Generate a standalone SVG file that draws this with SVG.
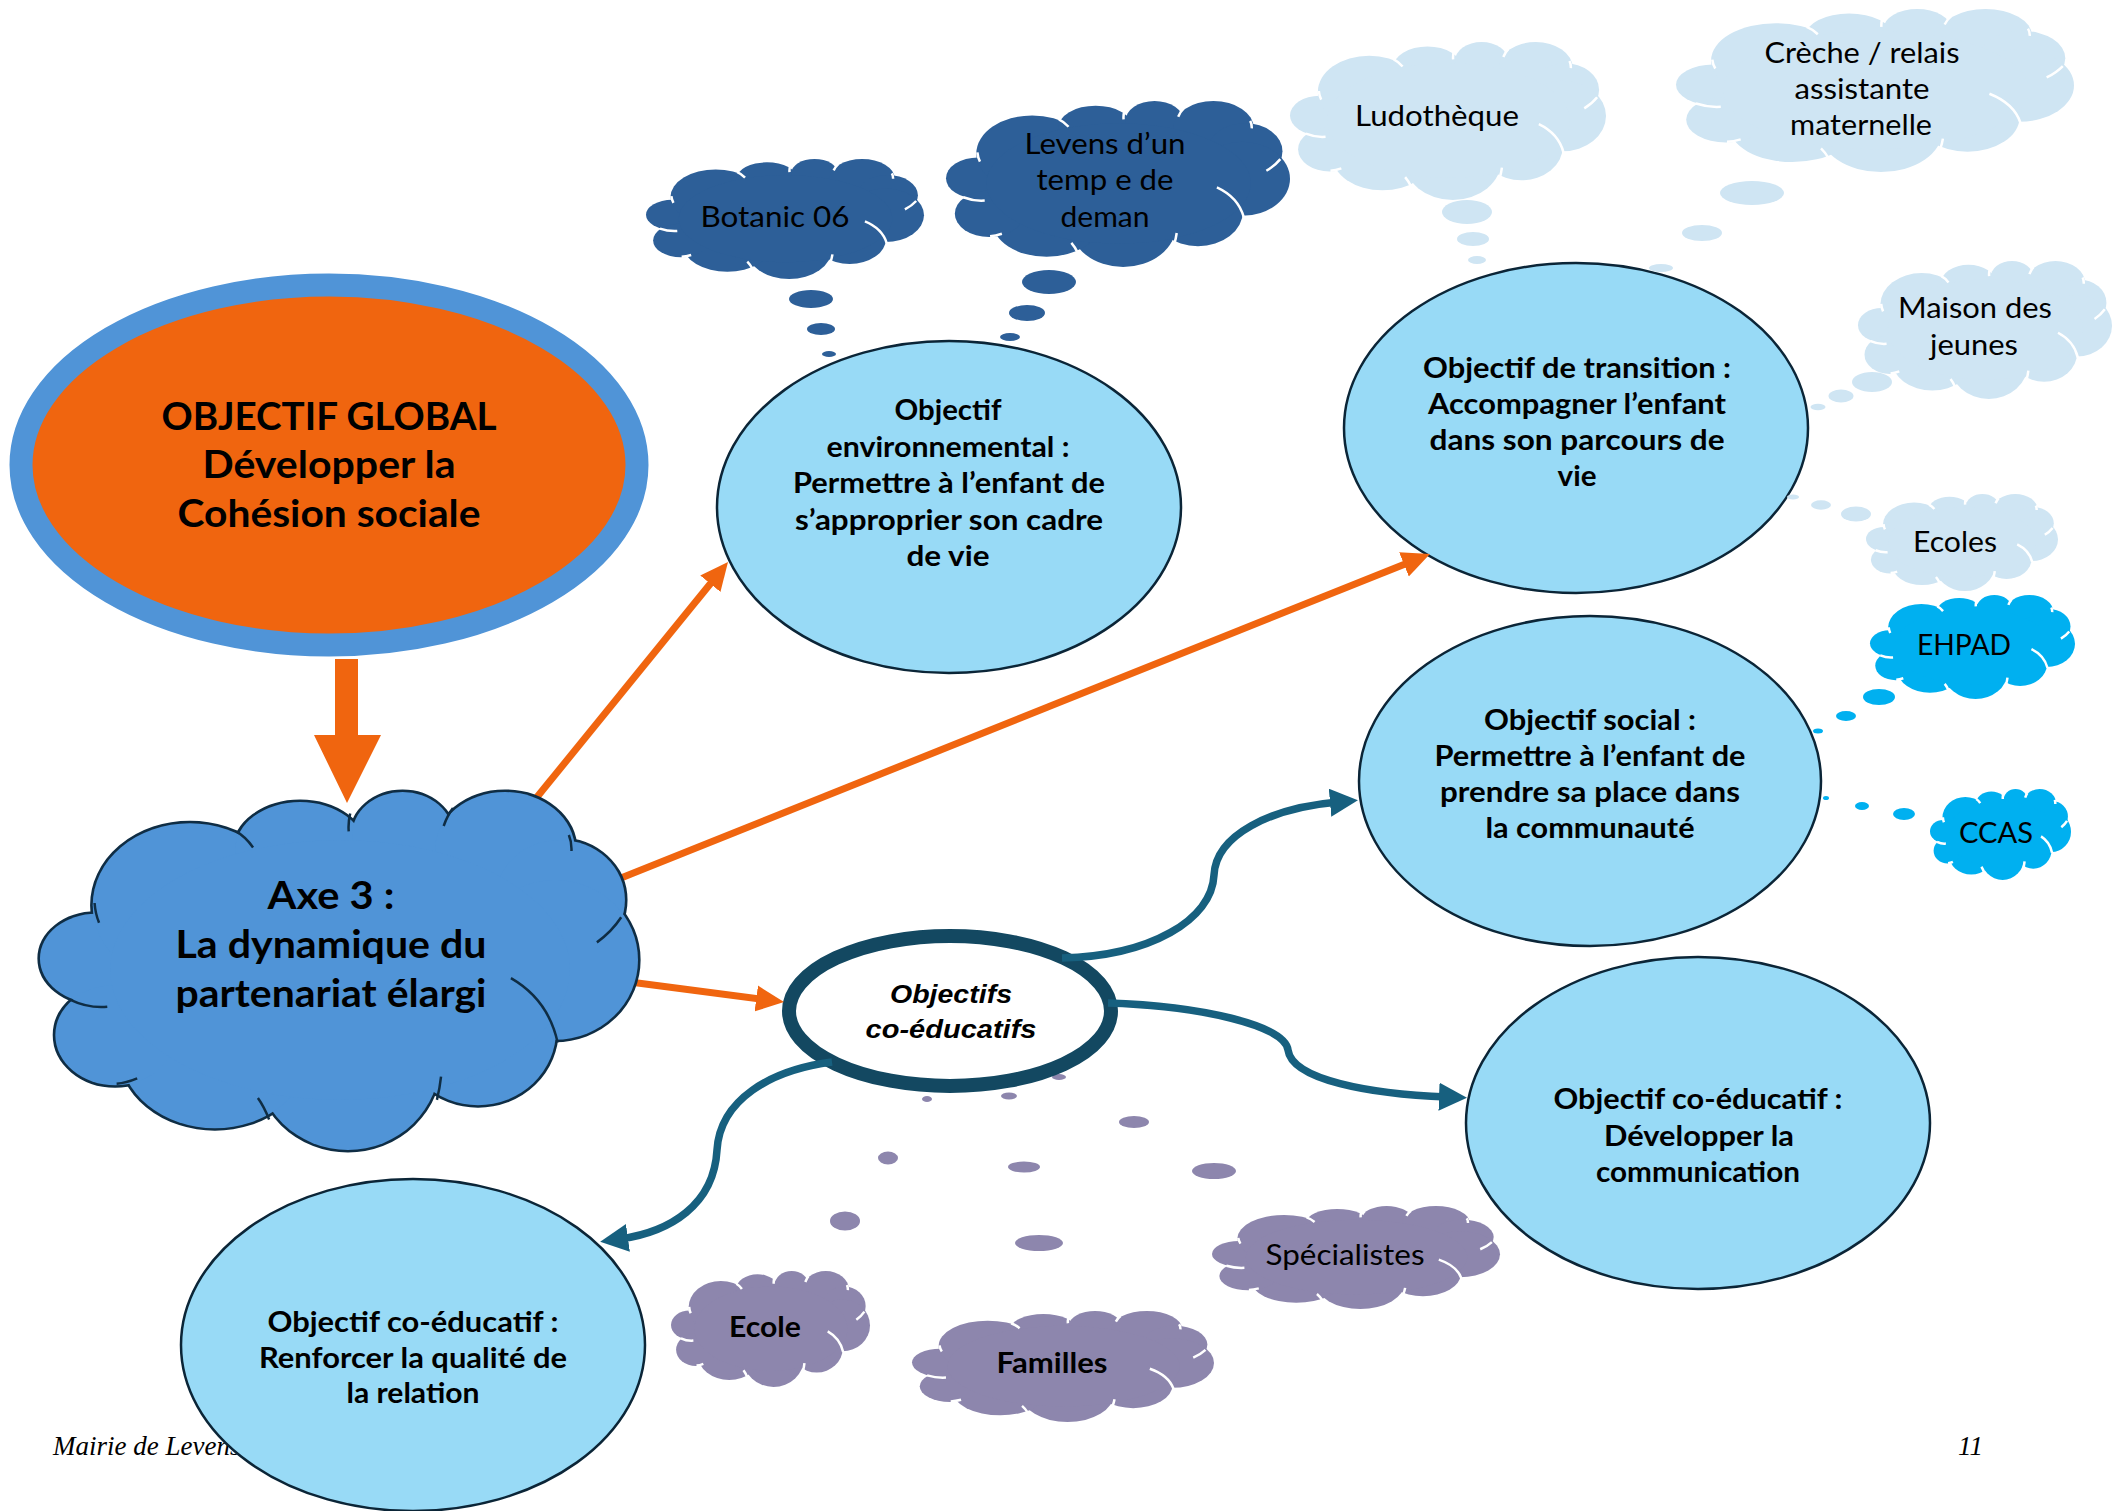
<svg xmlns="http://www.w3.org/2000/svg" width="2112" height="1511" viewBox="0 0 2112 1511">
<style>
.t{font-family:Lato,"Open Sans","Liberation Sans",sans-serif;fill:#000;text-anchor:middle}
.b{font-weight:700}
.r{font-weight:400}
.ell{fill:#98DAF6;stroke:#0B2537;stroke-width:2.5}
.dk{fill:#2D5F98}
.lt{fill:#CFE5F3}
.cy{fill:#00B0F0}
.pu{fill:#8D86AD}
.cr{fill:none;stroke:#fff;stroke-width:2.5}
.oc{fill:none;stroke:#F0650F;stroke-width:7}
.tc{fill:none;stroke:#17607F;stroke-width:7.5;stroke-linecap:butt}
.ft{font-family:"Liberation Serif","Times New Roman",serif;font-style:italic;font-size:27px;fill:#000}
.ce{font-family:"Liberation Sans",Arial,sans-serif;font-weight:700;font-style:italic;font-size:26px;text-anchor:middle;fill:#000}
</style>
<defs>
<symbol id="cloud" viewBox="0 0 160 100" preserveAspectRatio="none" style="overflow:visible">
<ellipse cx="15" cy="46.5" rx="15" ry="12.5"/>
<ellipse cx="40.1" cy="31.6" rx="26" ry="22.9"/>
<ellipse cx="69.6" cy="16.2" rx="17.4" ry="13.4"/>
<ellipse cx="97" cy="12" rx="13.5" ry="12"/>
<ellipse cx="124.4" cy="16.2" rx="18.7" ry="16.2"/>
<ellipse cx="139.1" cy="30.2" rx="17.4" ry="16.8"/>
<ellipse cx="137.8" cy="46.9" rx="22.2" ry="22.3"/>
<ellipse cx="117.2" cy="66.5" rx="20.9" ry="21"/>
<ellipse cx="82.4" cy="74.9" rx="24.6" ry="25.1"/>
<ellipse cx="46.8" cy="72.1" rx="25.4" ry="21.8"/>
<ellipse cx="20.1" cy="67.9" rx="16" ry="14"/>
<ellipse cx="80.3" cy="49.7" rx="61.5" ry="36.3"/>
</symbol>
<symbol id="creases" viewBox="0 0 160 100" preserveAspectRatio="none" style="overflow:visible">
<path vector-effect="non-scaling-stroke" d="M14.6,31 Q14.8,34 15.8,36.5 M52.5,11 Q55,12.5 57,15.5 M83,6 Q82.4,8.5 82.6,11 M110.5,4.5 Q109,6.5 108,9.5 M141.5,12 Q142.3,14 142.2,16.5 M155.5,35 Q153,39 149,42 M126,52 Q136,58 138.5,70 M107.3,79.5 Q107,82.5 106.2,86 M58.3,85.5 Q60,88 61.3,91.5 M20.5,81.5 Q23,81.3 26,80 M8,58 Q13,60.5 18,60"/>
</symbol>
<marker id="ao" viewBox="0 0 28 28" refX="8" refY="14" markerWidth="28" markerHeight="28" markerUnits="userSpaceOnUse" orient="auto"><path d="M0,1 L28,14 L0,27 z" fill="#F0650F"/></marker>
<marker id="at" viewBox="0 0 28 28" refX="8" refY="14" markerWidth="28" markerHeight="28" markerUnits="userSpaceOnUse" orient="auto"><path d="M0,0 L28,14 L0,28 z" fill="#17607F"/></marker>
</defs>

<g id="footer">
<text class="ft" x="53" y="1455">Mairie de Levens</text>
<text class="ft" x="1958" y="1455">11</text>
</g>

<g id="purple-dots" class="pu">
<ellipse cx="927" cy="1099" rx="5" ry="3"/>
<ellipse cx="1009" cy="1096" rx="8" ry="3.5"/>
<ellipse cx="1059" cy="1077" rx="7" ry="3"/>
<ellipse cx="1134" cy="1122" rx="15" ry="6"/>
<ellipse cx="888" cy="1158" rx="10" ry="6.5"/>
<ellipse cx="1024" cy="1167" rx="16" ry="5.5"/>
<ellipse cx="1214" cy="1171" rx="22" ry="8"/>
<ellipse cx="845" cy="1221" rx="15" ry="9.5"/>
<ellipse cx="1039" cy="1243" rx="24" ry="8"/>
</g>

<g id="objectif-global">
<ellipse cx="329" cy="465" rx="308" ry="180" fill="#F0650F" stroke="#5094D7" stroke-width="23"/>
<text class="t b" font-size="38" x="329" y="430" textLength="335" lengthAdjust="spacingAndGlyphs">OBJECTIF GLOBAL</text>
<text class="t b" font-size="38" x="329" y="478" textLength="253" lengthAdjust="spacingAndGlyphs">Développer la</text>
<text class="t b" font-size="38" x="329" y="527" textLength="303" lengthAdjust="spacingAndGlyphs">Cohésion sociale</text>
</g>

<g id="objectif-environnemental">
<ellipse class="ell" cx="949" cy="507" rx="232" ry="166"/>
<text class="t b" font-size="28" x="948" y="420" textLength="107" lengthAdjust="spacingAndGlyphs">Objectif</text>
<text class="t b" font-size="28" x="948" y="457" textLength="243" lengthAdjust="spacingAndGlyphs">environnemental :</text>
<text class="t b" font-size="28" x="949" y="493" textLength="312" lengthAdjust="spacingAndGlyphs">Permettre à l’enfant de</text>
<text class="t b" font-size="28" x="949" y="530" textLength="308" lengthAdjust="spacingAndGlyphs">s’approprier son cadre</text>
<text class="t b" font-size="28" x="948" y="566" textLength="83" lengthAdjust="spacingAndGlyphs">de vie</text>
</g>

<g id="objectif-transition">
<ellipse class="ell" cx="1576" cy="428" rx="232" ry="165"/>
<text class="t b" font-size="28" x="1577" y="378" textLength="308" lengthAdjust="spacingAndGlyphs">Objectif de transition :</text>
<text class="t b" font-size="28" x="1577" y="414" textLength="298" lengthAdjust="spacingAndGlyphs">Accompagner l’enfant</text>
<text class="t b" font-size="28" x="1577" y="450" textLength="295" lengthAdjust="spacingAndGlyphs">dans son parcours de</text>
<text class="t b" font-size="28" x="1577" y="486" textLength="39" lengthAdjust="spacingAndGlyphs">vie</text>
</g>

<g id="objectif-social">
<ellipse class="ell" cx="1590" cy="781" rx="231" ry="165"/>
<text class="t b" font-size="28" x="1590" y="730" textLength="212" lengthAdjust="spacingAndGlyphs">Objectif social :</text>
<text class="t b" font-size="28" x="1590" y="766" textLength="311" lengthAdjust="spacingAndGlyphs">Permettre à l’enfant de</text>
<text class="t b" font-size="28" x="1590" y="802" textLength="300" lengthAdjust="spacingAndGlyphs">prendre sa place dans</text>
<text class="t b" font-size="28" x="1590" y="838" textLength="209" lengthAdjust="spacingAndGlyphs">la communauté</text>
</g>

<g id="objectif-communication">
<ellipse class="ell" cx="1698" cy="1123" rx="232" ry="166"/>
<text class="t b" font-size="28" x="1698" y="1109" textLength="289" lengthAdjust="spacingAndGlyphs">Objectif co-éducatif :</text>
<text class="t b" font-size="28" x="1699" y="1146" textLength="190" lengthAdjust="spacingAndGlyphs">Développer la</text>
<text class="t b" font-size="28" x="1698" y="1182" textLength="204" lengthAdjust="spacingAndGlyphs">communication</text>
</g>

<g id="objectif-relation">
<ellipse class="ell" cx="413" cy="1345" rx="232" ry="166"/>
<text class="t b" font-size="28" x="413" y="1332" textLength="291" lengthAdjust="spacingAndGlyphs">Objectif co-éducatif :</text>
<text class="t b" font-size="28" x="413" y="1368" textLength="308" lengthAdjust="spacingAndGlyphs">Renforcer la qualité de</text>
<text class="t b" font-size="28" x="413" y="1403" textLength="133" lengthAdjust="spacingAndGlyphs">la relation</text>
</g>

<g id="botanic">
<use href="#cloud" x="646" y="159" width="278" height="120" class="dk"/>
<use href="#creases" x="646" y="159" width="278" height="120" class="cr"/>
<g class="dk"><ellipse cx="811" cy="299" rx="22" ry="9"/><ellipse cx="821" cy="329" rx="14" ry="6"/><ellipse cx="829" cy="354" rx="7" ry="3"/></g>
<text class="t r" font-size="28" x="775" y="227" textLength="149" lengthAdjust="spacingAndGlyphs">Botanic 06</text>
</g>

<g id="levens">
<use href="#cloud" x="946" y="101" width="344" height="166" class="dk"/>
<use href="#creases" x="946" y="101" width="344" height="166" class="cr"/>
<g class="dk"><ellipse cx="1049" cy="282" rx="27" ry="12"/><ellipse cx="1027" cy="313" rx="18" ry="8"/><ellipse cx="1010" cy="337" rx="10" ry="4"/></g>
<text class="t r" font-size="28" x="1105" y="154" textLength="161" lengthAdjust="spacingAndGlyphs">Levens d’un</text>
<text class="t r" font-size="28" x="1105" y="190" textLength="137" lengthAdjust="spacingAndGlyphs">temp e de</text>
<text class="t r" font-size="28" x="1105" y="227" textLength="89" lengthAdjust="spacingAndGlyphs">deman</text>
</g>

<g id="ludotheque">
<use href="#cloud" x="1290" y="42" width="316" height="158" class="lt"/>
<use href="#creases" x="1290" y="42" width="316" height="158" class="cr"/>
<g class="lt"><ellipse cx="1467" cy="212" rx="25" ry="12"/><ellipse cx="1473" cy="239" rx="16" ry="7"/><ellipse cx="1477" cy="260" rx="9" ry="4"/></g>
<text class="t r" font-size="28" x="1437" y="126" textLength="164" lengthAdjust="spacingAndGlyphs">Ludothèque</text>
</g>

<g id="creche">
<use href="#cloud" x="1676" y="9" width="398" height="163" class="lt"/>
<use href="#creases" x="1676" y="9" width="398" height="163" class="cr"/>
<g class="lt"><ellipse cx="1752" cy="193" rx="32" ry="12"/><ellipse cx="1702" cy="233" rx="20" ry="8"/><ellipse cx="1661" cy="268" rx="12" ry="4"/></g>
<text class="t r" font-size="28" x="1862" y="63" textLength="195" lengthAdjust="spacingAndGlyphs">Crèche / relais</text>
<text class="t r" font-size="28" x="1862" y="99" textLength="135" lengthAdjust="spacingAndGlyphs">assistante</text>
<text class="t r" font-size="28" x="1861" y="135" textLength="142" lengthAdjust="spacingAndGlyphs">maternelle</text>
</g>

<g id="maison-jeunes">
<use href="#cloud" x="1858" y="261" width="254" height="138" class="lt"/>
<use href="#creases" x="1858" y="261" width="254" height="138" class="cr"/>
<g class="lt"><ellipse cx="1872" cy="382" rx="20" ry="10"/><ellipse cx="1841" cy="396" rx="12.5" ry="6.5"/><ellipse cx="1818" cy="407" rx="7.5" ry="3.3"/></g>
<text class="t r" font-size="28" x="1975" y="318" textLength="154" lengthAdjust="spacingAndGlyphs">Maison des</text>
<text class="t r" font-size="28" x="1974" y="355" textLength="88" lengthAdjust="spacingAndGlyphs">jeunes</text>
</g>

<g id="ecoles">
<use href="#cloud" x="1866" y="494" width="192" height="97" class="lt"/>
<use href="#creases" x="1866" y="494" width="192" height="97" class="cr"/>
<g class="lt"><ellipse cx="1856" cy="514" rx="15" ry="7.5"/><ellipse cx="1821" cy="505" rx="10" ry="4.7"/><ellipse cx="1793" cy="497" rx="6" ry="2.5"/></g>
<text class="t r" font-size="28" x="1955" y="552" textLength="84" lengthAdjust="spacingAndGlyphs">Ecoles</text>
</g>

<g id="ehpad">
<use href="#cloud" x="1870" y="595" width="205" height="104" class="cy"/>
<use href="#creases" x="1870" y="595" width="205" height="104" class="cr"/>
<g class="cy"><ellipse cx="1879" cy="697" rx="16" ry="8"/><ellipse cx="1846" cy="716" rx="10" ry="5"/><ellipse cx="1818" cy="731" rx="5" ry="2.5"/></g>
<text class="t r" font-size="29" x="1964" y="655" textLength="94" lengthAdjust="spacingAndGlyphs">EHPAD</text>
</g>

<g id="ccas">
<use href="#cloud" x="1930" y="789" width="141" height="91" class="cy"/>
<use href="#creases" x="1930" y="789" width="141" height="91" class="cr"/>
<g class="cy"><ellipse cx="1904" cy="814" rx="11" ry="6"/><ellipse cx="1862" cy="806" rx="7" ry="4"/><ellipse cx="1826" cy="798" rx="3" ry="2"/></g>
<text class="t r" font-size="29" x="1996" y="843" textLength="74" lengthAdjust="spacingAndGlyphs">CCAS</text>
</g>

<g id="specialistes">
<use href="#cloud" x="1212" y="1206" width="288" height="103" class="pu"/>
<use href="#creases" x="1212" y="1206" width="288" height="103" class="cr"/>
<text class="t r" font-size="28" x="1345" y="1265" textLength="159" lengthAdjust="spacingAndGlyphs">Spécialistes</text>
</g>

<g id="ecole">
<use href="#cloud" x="671" y="1271" width="199" height="116" class="pu"/>
<use href="#creases" x="671" y="1271" width="199" height="116" class="cr"/>
<text class="t b" font-size="28" x="765" y="1337" textLength="72" lengthAdjust="spacingAndGlyphs">Ecole</text>
</g>

<g id="familles">
<use href="#cloud" x="912" y="1311" width="302" height="111" class="pu"/>
<use href="#creases" x="912" y="1311" width="302" height="111" class="cr"/>
<text class="t b" font-size="28" x="1052" y="1373" textLength="111" lengthAdjust="spacingAndGlyphs">Familles</text>
</g>

<g id="objectifs-coeducatifs">
<ellipse cx="950" cy="1011" rx="161" ry="75" fill="#fff" stroke="#134861" stroke-width="14"/>
<text class="ce" x="951" y="1003" textLength="122" lengthAdjust="spacingAndGlyphs">Objectifs</text>
<text class="ce" x="951" y="1038" textLength="171" lengthAdjust="spacingAndGlyphs">co-éducatifs</text>
</g>

<g id="connectors">
<polygon points="335,659 358,659 358,735 381,735 347,803 314,735 335,735" fill="#F0650F"/>
<path class="oc" d="M533,802 L715.4,577.5" marker-end="url(#ao)"/>
<path class="oc" d="M616,880 L1411.4,561.4" marker-end="url(#ao)"/>
<path class="oc" d="M630,982 L764.2,999.5" marker-end="url(#ao)"/>
<path class="tc" d="M1062,958 C1150,956 1212,920 1214,875 C1216,835 1270,808 1338,802" marker-end="url(#at)"/>
<path class="tc" d="M1108,1003 C1200,1006 1285,1025 1288,1050 C1292,1080 1370,1094 1447,1097" marker-end="url(#at)"/>
<path class="tc" d="M832,1062 C770,1070 720,1100 717,1150 C714,1205 670,1232 620,1239" marker-end="url(#at)"/>
</g>

<g id="axe3">
<use href="#cloud" x="40" y="792" width="598" height="358" fill="#0F2D44" stroke="#0F2D44" stroke-width="1.4"/>
<use href="#cloud" x="40" y="792" width="598" height="358" fill="#5094D7"/>
<use href="#creases" x="40" y="792" width="598" height="358" fill="none" stroke="#0F2D44" stroke-width="2.5"/>
<text class="t b" font-size="39" x="331" y="909" textLength="127" lengthAdjust="spacingAndGlyphs">Axe 3 :</text>
<text class="t b" font-size="39" x="331" y="958" textLength="311" lengthAdjust="spacingAndGlyphs">La dynamique du</text>
<text class="t b" font-size="39" x="331" y="1007" textLength="311" lengthAdjust="spacingAndGlyphs">partenariat élargi</text>
</g>
</svg>
